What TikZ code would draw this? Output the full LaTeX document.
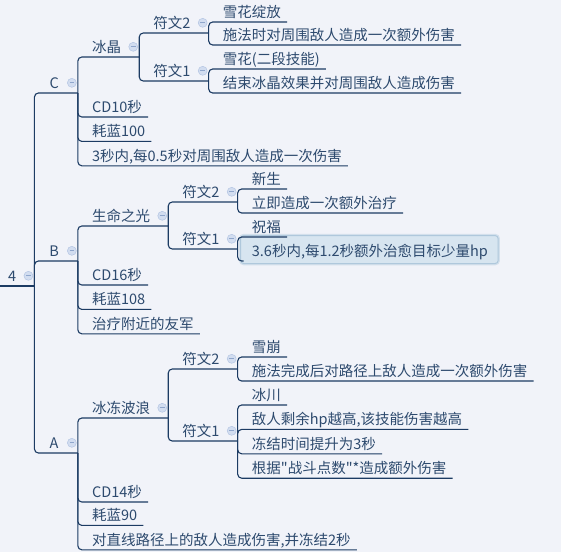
\documentclass[tikz,border=0pt]{standalone}
\usepackage{fontspec}
\usepackage{xcolor}
\usetikzlibrary{positioning,backgrounds}
\newfontfamily\mindfont{Noto Sans CJK SC}
\definecolor{page}{HTML}{F1F3F9}
\definecolor{ink}{HTML}{2D4A6E}
\definecolor{wire}{HTML}{1C3B63}
\definecolor{foldfill}{HTML}{D2DDF0}
\definecolor{foldedge}{HTML}{B4C5E3}
\definecolor{foldbar}{HTML}{8FA6CC}
\definecolor{selfill}{HTML}{D7E5F0}
\definecolor{seledge}{HTML}{AFC8DC}
\definecolor{selglow}{HTML}{D3E0EC}

\begin{document}
\begin{tikzpicture}[x=1pt, y=-1pt,
  base/.style={anchor=south west, inner xsep=6pt, inner ysep=1.5pt,
               text height=14pt, text depth=3pt, text=ink,
               font={\mindfont\fontsize{14.5pt}{17pt}\selectfont}},
  topic/.style={base, execute at begin node=\hspace*{8pt}},
  hub/.style={topic, execute at end node=\hspace*{12pt}},
  major/.style={hub, minimum width=43pt},
  fold/.style={circle, minimum size=9pt, inner sep=0pt, fill=foldfill,
               draw=foldedge, line width=0.5pt,
               path picture={\draw[foldbar, line width=0.9pt]
                 ([xshift=2.2pt]path picture bounding box.west) --
                 ([xshift=-2.2pt]path picture bounding box.east);}},
  link/.style={draw=wire, line width=1.1pt, rounded corners=4pt},
  selbox/.style={fill=selfill, draw=seledge, line width=1pt, rounded corners=3pt,
                 preaction={draw=selglow, line width=3.5pt}}]
\useasboundingbox (0,0) rectangle (561,552);

\node[base, execute at begin node=\hspace*{2pt}, execute at end node=\hspace*{12pt}]
  (root) at (0,286) {4};

\node[major] (c) at (root.south east |- 0,93) {C};
\node[hub] (ice) at (c.south east |- 0,57) {冰晶};
\node[hub] (ice2) at (ice.south east |- 0,33) {符文2};
\node[topic] (bloom) at (ice2.south east |- 0,22) {雪花绽放};
\node[topic] (bloomx) at (ice2.south east |- 0,45) {施法时对周围敌人造成一次额外伤害};
\node[hub] (ice1) at (ice.south east |- 0,81) {符文1};
\node[topic] (flake) at (ice1.south east |- 0,69) {雪花(二段技能)};
\node[topic] (flakex) at (ice1.south east |- 0,93) {结束冰晶效果并对周围敌人造成伤害};
\node[topic] (cdc) at (c.south east |- 0,117) {CD10秒};
\node[topic, below=4pt of cdc.south west, anchor=north west] (manac) {耗蓝100};
\node[topic, below=4pt of manac.south west, anchor=north west] (descc) {3秒内,每0.5秒对周围敌人造成一次伤害};

\node[major] (b) at (root.south east |- 0,261) {B};
\node[hub] (life) at (b.south east |- 0,226) {生命之光};
\node[hub] (life2) at (life.south east |- 0,202) {符文2};
\node[topic] (reborn) at (life2.south east |- 0,189) {新生};
\node[topic] (rebornx) at (life2.south east |- 0,213) {立即造成一次额外治疗};
\node[hub] (life1) at (life.south east |- 0,249) {符文1};
\node[topic] (bless) at (life1.south east |- 0,237) {祝福};
\node[topic] (heal) at (life1.south east |- 0,261) {3.6秒内,每1.2秒额外治愈目标少量hp};
\node[topic] (cdb) at (b.south east |- 0,285) {CD16秒};
\node[topic, below=4pt of cdb.south west, anchor=north west] (manab) {耗蓝108};
\node[topic, below=4pt of manab.south west, anchor=north west] (descb) {治疗附近的友军};

\node[major] (a) at (root.south east |- 0,453) {A};
\node[hub] (wave) at (a.south east |- 0,418) {冰冻波浪};
\node[hub] (wave2) at (wave.south east |- 0,369) {符文2};
\node[topic] (aval) at (wave2.south east |- 0,357) {雪崩};
\node[topic] (avalx) at (wave2.south east |- 0,381) {施法完成后对路径上敌人造成一次额外伤害};
\node[hub] (wave1) at (wave.south east |- 0,441) {符文1};
\node[topic] (glac) at (wave1.south east |- 0,405) {冰川};
\node[topic, below=4pt of glac.south west, anchor=north west] (glacx) {敌人剩余hp越高,该技能伤害越高};
\node[topic, below=4pt of glacx.south west, anchor=north west] (glacy) {冻结时间提升为3秒};
\node[topic, below=4pt of glacy.south west, anchor=north west] (glacz) {根据"战斗点数"*造成额外伤害};
\node[topic] (cda) at (a.south east |- 0,502) {CD14秒};
\node[topic, below=3pt of cda.south west, anchor=north west] (manaa) {耗蓝90};
\node[topic, below=4pt of manaa.south west, anchor=north west] (desca) {对直线路径上的敌人造成伤害,并冻结2秒};

\begin{scope}[on background layer]
  \fill[page] (0,0) rectangle (561,552);
  \draw[selbox] ([shift={(3pt,-2.5pt)}]heal.south west) rectangle ([shift={(4pt,5pt)}]heal.north east);
\end{scope}

\draw[link] (root.south west) -- (root.south east);
\foreach \p/\c in {root/c, root/b, root/a,
    c/ice, c/cdc, c/manac, c/descc,
    ice/ice2, ice/ice1, ice2/bloom, ice2/bloomx, ice1/flake, ice1/flakex,
    b/life, b/cdb, b/manab, b/descb,
    life/life2, life/life1, life2/reborn, life2/rebornx, life1/bless,
    a/wave, a/cda, a/manaa, a/desca,
    wave/wave2, wave/wave1, wave2/aval, wave2/avalx,
    wave1/glac, wave1/glacx, wave1/glacy, wave1/glacz}
  \draw[link] (\p.south east) |- (\c.south east);
\draw[link] (life1.south east) |- ([xshift=6pt]heal.south west);

\foreach \h in {root, c, ice, ice2, ice1, b, life, life2, life1, a, wave, wave2, wave1}
  \node[fold] (\h-fold) at ([xshift=-6pt]\h.east) {};
\end{tikzpicture}
\end{document}
